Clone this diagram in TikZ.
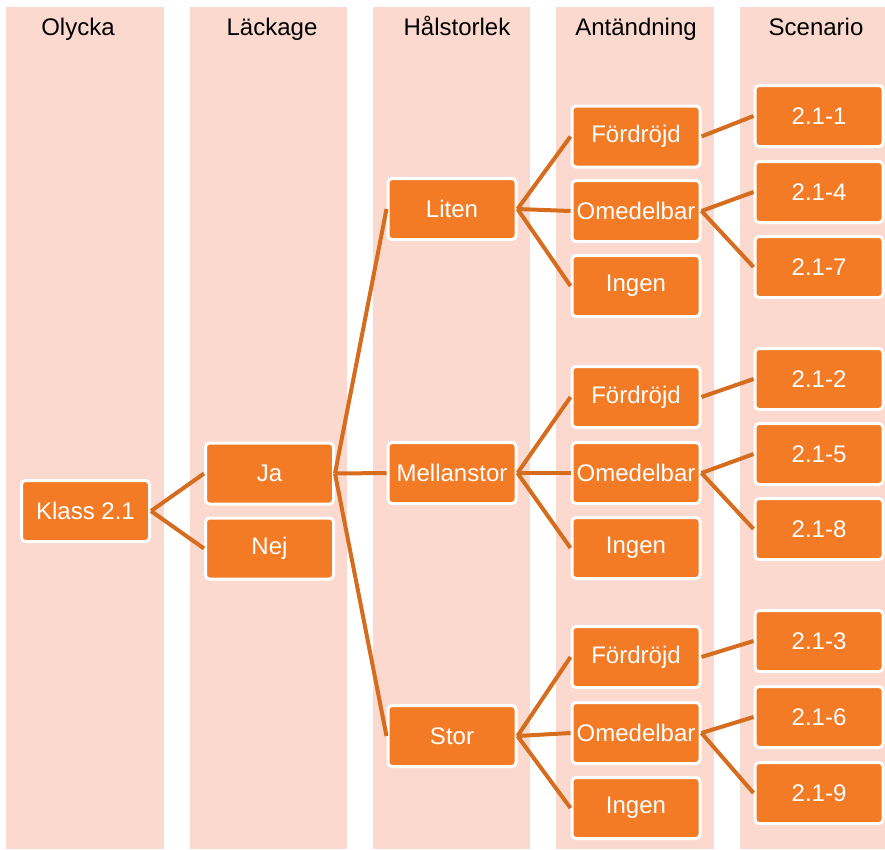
\documentclass[tikz,border=0pt]{standalone}
\usepackage{fontspec}
\setmainfont{Liberation Sans}
\usetikzlibrary{positioning}
\definecolor{strip}{RGB}{251,217,206}
\definecolor{boxfill}{RGB}{243,123,37}
\definecolor{link}{RGB}{213,108,30}
\tikzset{lane/.style={fill=strip,draw=none},
  head/.style={draw=none,anchor=base,inner sep=0pt,font=\fontsize{24}{28}\selectfont},
  box/.style={draw=white,line width=3pt,fill=boxfill,rounded corners=4pt,text=white,
    minimum width=128pt,minimum height=61pt,inner sep=0pt,font=\fontsize{24}{28}\selectfont},
  link/.style={draw=link,line width=4pt}}

\begin{document}
\begin{tikzpicture}[x=1pt,y=-1pt]
\useasboundingbox (0,0) rectangle (885,849);
\fill[lane] (6,7) rectangle (164,849);
\fill[lane] (190,7) rectangle (347,849);
\fill[lane] (373,7) rectangle (530,849);
\fill[lane] (556,7) rectangle (714,849);
\fill[lane] (740,7) rectangle (885,849);
\node[head] (hol) at (78,35) {Olycka};
\node[head] (hla) at (272,35) {Läckage};
\node[head] (hha) at (457,35) {Hålstorlek};
\node[head] (han) at (636,35) {Antändning};
\node[head] (hsc) at (816,35) {Scenario};
% tree
\node[box] (klass) at (85.5,511) {Klass 2.1};
\node[box] (ja) at (269.5,473.5) {Ja};
\node[box] (nej) at (269.5,548.5) {Nej};
\node[box] (liten) at (452,209) {Liten};
\node[box] (mellan) at (452,473) {Mellanstor};
\node[box] (stor) at (452,736) {Stor};
\node[box] (f1) at (636,136.5) {Fördröjd};
\node[box] (o1) at (636,211) {Omedelbar};
\node[box] (i1) at (636,286) {Ingen};
\node[box] (f2) at (636,397) {Fördröjd};
\node[box] (o2) at (636,473) {Omedelbar};
\node[box] (i2) at (636,548) {Ingen};
\node[box] (f3) at (636,657) {Fördröjd};
\node[box] (o3) at (636,733) {Omedelbar};
\node[box] (i3) at (636,808) {Ingen};
\node[box] (s1) at (819,116) {2.1-1};
\node[box] (s4) at (819,192) {2.1-4};
\node[box] (s7) at (819,267) {2.1-7};
\node[box] (s2) at (819,379) {2.1-2};
\node[box] (s5) at (819,454) {2.1-5};
\node[box] (s8) at (819,529) {2.1-8};
\node[box] (s3) at (819,641) {2.1-3};
\node[box] (s6) at (819,717) {2.1-6};
\node[box] (s9) at (819,793) {2.1-9};
% links
\draw[link] (klass.east) -- (ja.west);
\draw[link] (klass.east) -- (nej.west);
\draw[link] (ja.east) -- (liten.west);
\draw[link] (ja.east) -- (mellan.west);
\draw[link] (ja.east) -- (stor.west);
\draw[link] (liten.east) -- (f1.west);
\draw[link] (liten.east) -- (o1.west);
\draw[link] (liten.east) -- (i1.west);
\draw[link] (mellan.east) -- (f2.west);
\draw[link] (mellan.east) -- (o2.west);
\draw[link] (mellan.east) -- (i2.west);
\draw[link] (stor.east) -- (f3.west);
\draw[link] (stor.east) -- (o3.west);
\draw[link] (stor.east) -- (i3.west);
\draw[link] (f1.east) -- (s1.west);
\draw[link] (o1.east) -- (s4.west);
\draw[link] (o1.east) -- (s7.west);
\draw[link] (f2.east) -- (s2.west);
\draw[link] (o2.east) -- (s5.west);
\draw[link] (o2.east) -- (s8.west);
\draw[link] (f3.east) -- (s3.west);
\draw[link] (o3.east) -- (s6.west);
\draw[link] (o3.east) -- (s9.west);
\end{tikzpicture}
\end{document}
